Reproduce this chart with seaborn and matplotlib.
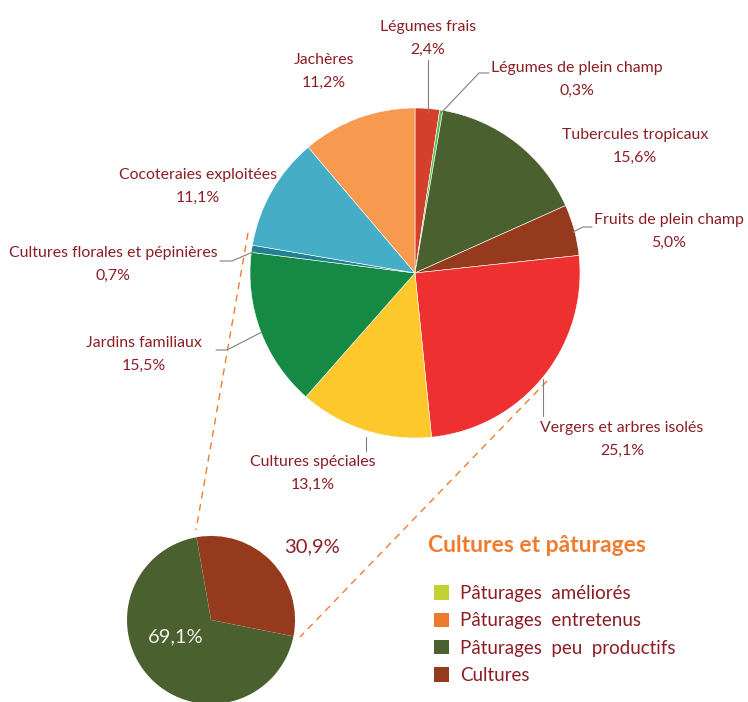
import matplotlib
matplotlib.use('Agg')
import matplotlib.pyplot as plt
from matplotlib.patches import Patch
import seaborn as sns

# --- data ---
categories = ['Légumes frais', 'Légumes de plein champ', 'Tubercules tropicaux',
              'Fruits de plein champ', 'Vergers et arbres isolés', 'Cultures spéciales',
              'Jardins familiaux', 'Cultures florales et pépinières',
              'Cocoteraies exploitées', 'Jachères']
shares = [2.4, 0.3, 15.6, 5.0, 25.1, 13.1, 15.5, 0.7, 11.1, 11.2]
slice_colors = ['#d4402b', '#5cbf4c', '#4a602e', '#963a1e', '#ee3130',
                '#fdc82c', '#168a44', '#1f8290', '#46adc6', '#f7994f']

sub_categories = ['Cultures', 'Pâturages peu productifs']
sub_shares = [30.9, 69.1]
sub_colors = ['#963a1e', '#4a602e']

legend_title = 'Cultures et pâturages'
legend_labels = ['Pâturages  améliorés', 'Pâturages  entretenus',
                 'Pâturages  peu  productifs', 'Cultures']
legend_colors = ['#c5d033', '#ec7a2c', '#4a602e', '#963a1e']

sns.set_theme(style='white')
plt.rcParams['font.family'] = ['Lato', 'DejaVu Sans']

TXT = '#8b1e24'
LEAD = '#808080'
ORANGE = '#ee7d31'

def fmt(v):
    return f'{v:.1f}'.replace('.', ',') + '%'

fig = plt.figure(figsize=(7.48, 7.02), dpi=100)
ax = fig.add_axes([0, 0, 1, 1])

# pixel-like coordinates, y pointing down (angles mirrored accordingly)
pal = sns.color_palette(slice_colors)
ax.pie(shares, colors=pal, center=(415, 273), radius=165, startangle=270,
       counterclock=True, frame=True,
       wedgeprops=dict(edgecolor='white', linewidth=0.4))

ax.pie(sub_shares, colors=sns.color_palette(sub_colors), center=(211, 620), radius=84,
       startangle=260, counterclock=True, explode=[0.1, 0], frame=True,
       wedgeprops=dict(linewidth=0))

ax.set_xlim(0, 748)
ax.set_ylim(702, 0)
ax.set_aspect('auto')
ax.axis('off')

# dashed connectors main pie -> detail pie
ax.plot([248, 196], [233, 530], ls=(0, (5, 4)), color=ORANGE, lw=1)
ax.plot([547, 300], [381, 637], ls=(0, (5, 4)), color=ORANGE, lw=1)

# labels: (x, y of first line)
label_pos = [(428, 27), (577, 68), (635, 135), (669, 220), (622, 428),
             (313, 462), (144, 343), (113, 253), (198, 175), (324, 60)]
for name, val, (x, y) in zip(categories, shares, label_pos):
    ax.text(x, y, name, ha='center', va='center', color=TXT, fontsize=11.4)
    ax.text(x, y + 23, fmt(val), ha='center', va='center', color=TXT, fontsize=11.4)

# leader lines
leaders = [
    ([428, 428], [60, 112]),
    ([489, 479, 441], [73, 73, 113]),
    ([592, 583, 573], [227, 227, 232]),
    ([543, 543], [379, 416]),
    ([366, 366], [437, 451]),
    ([216, 227, 262], [350, 350, 332]),
    ([220, 232, 255], [261, 261, 251]),
]
for xs, ys in leaders:
    ax.plot(xs, ys, color=LEAD, lw=0.8)

# detail pie labels
ax.text(176, 637, fmt(sub_shares[1]), ha='center', va='center', color='#f2f2ea', fontsize=14.5)
ax.text(312, 547, fmt(sub_shares[0]), ha='center', va='center', color=TXT, fontsize=14.5)

# legend
ax.text(428, 546, legend_title, ha='left', va='center', color=ORANGE,
        fontsize=16.5, fontweight='bold')
handles = [Patch(facecolor=c, edgecolor='none') for c in legend_colors]
leg = ax.legend(handles, legend_labels, loc='upper left',
                bbox_to_anchor=(434 / 748, 1 - 585 / 702),
                frameon=False, fontsize=13.5,
                handlelength=0.8, handleheight=0.8, handletextpad=0.6,
                labelspacing=0.55, borderpad=0, borderaxespad=0)
for t in leg.get_texts():
    t.set_color(TXT)

fig.savefig('out.png', dpi=100)
